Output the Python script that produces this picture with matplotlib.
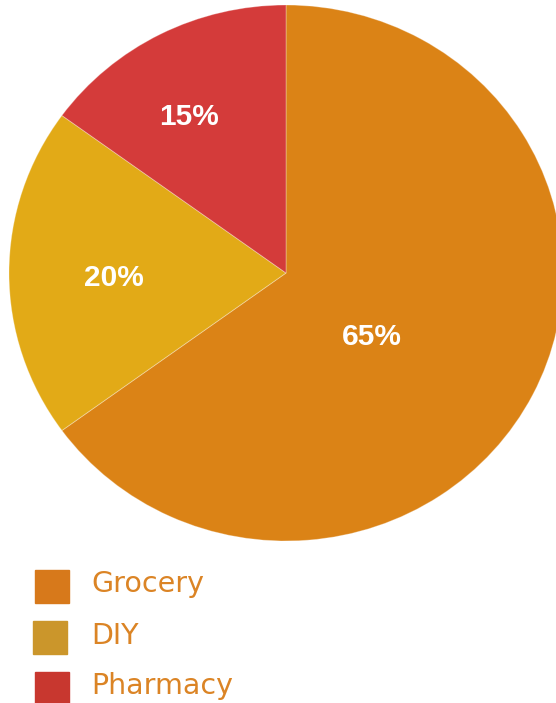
import numpy as np
import matplotlib
matplotlib.use('Agg')
from matplotlib import pyplot as plt
from matplotlib.patches import Rectangle

# shares per store type
categories = ['Grocery', 'DIY', 'Pharmacy']
shares = [65, 20, 15]
slice_colors = ['#DB8316', '#E2AA17', '#D43B3A']
legend_colors = ['#D7791B', '#CB962B', '#C8372F']
text_color = '#DB8425'

# where each percentage sits: (radius, angle in degrees) inside the pie
label_radius = [0.385, 0.623, 0.69]
label_angle = [-36, 180.8, 120.5]

W, H = 556, 703
fig = plt.figure(figsize=(W / 100, H / 100), dpi=100)

# pie is slightly stretched horizontally and runs past the right edge
cx, cy, rx, ry = 286, 273, 277, 268
ax = fig.add_axes([(cx - rx) / W, 1 - (cy + ry) / H, 2 * rx / W, 2 * ry / H])
wedges, _, pcts = ax.pie(
    shares,
    colors=slice_colors,
    startangle=90,
    counterclock=False,
    autopct='%d%%',
    wedgeprops=dict(edgecolor=(1, 1, 1, 0.3), linewidth=0.7),
    textprops=dict(color='white', fontsize=21.5, fontweight='bold', family='Liberation Sans'),
)
ax.set_aspect('auto')
ax.set_xlim(-1, 1)
ax.set_ylim(-1, 1)
ax.axis('off')

# baseline sits half a cap height below the label centre
half_cap = 11 / ry
for t, r, a in zip(pcts, label_radius, label_angle):
    t.set_position((r * np.cos(np.radians(a)), r * np.sin(np.radians(a)) - half_cap))
    t.set_ha('center')
    t.set_va('baseline')

# legend drawn by hand in pixel space
box_x = [35, 33, 35]
row_y = [586.5, 637.5, 688]
for name, col, bx, y in zip(categories, legend_colors, box_x, row_y):
    fig.patches.append(Rectangle((bx / W, 1 - (y + 16.5) / H), 34 / W, 33 / H,
                                 transform=fig.transFigure, color=col))
    fig.text(91 / W, 1 - (y - 2) / H, name, color=text_color, fontsize=20.5,
             family='DejaVu Sans', va='center', ha='left')

fig.savefig('out.png', dpi=100)
